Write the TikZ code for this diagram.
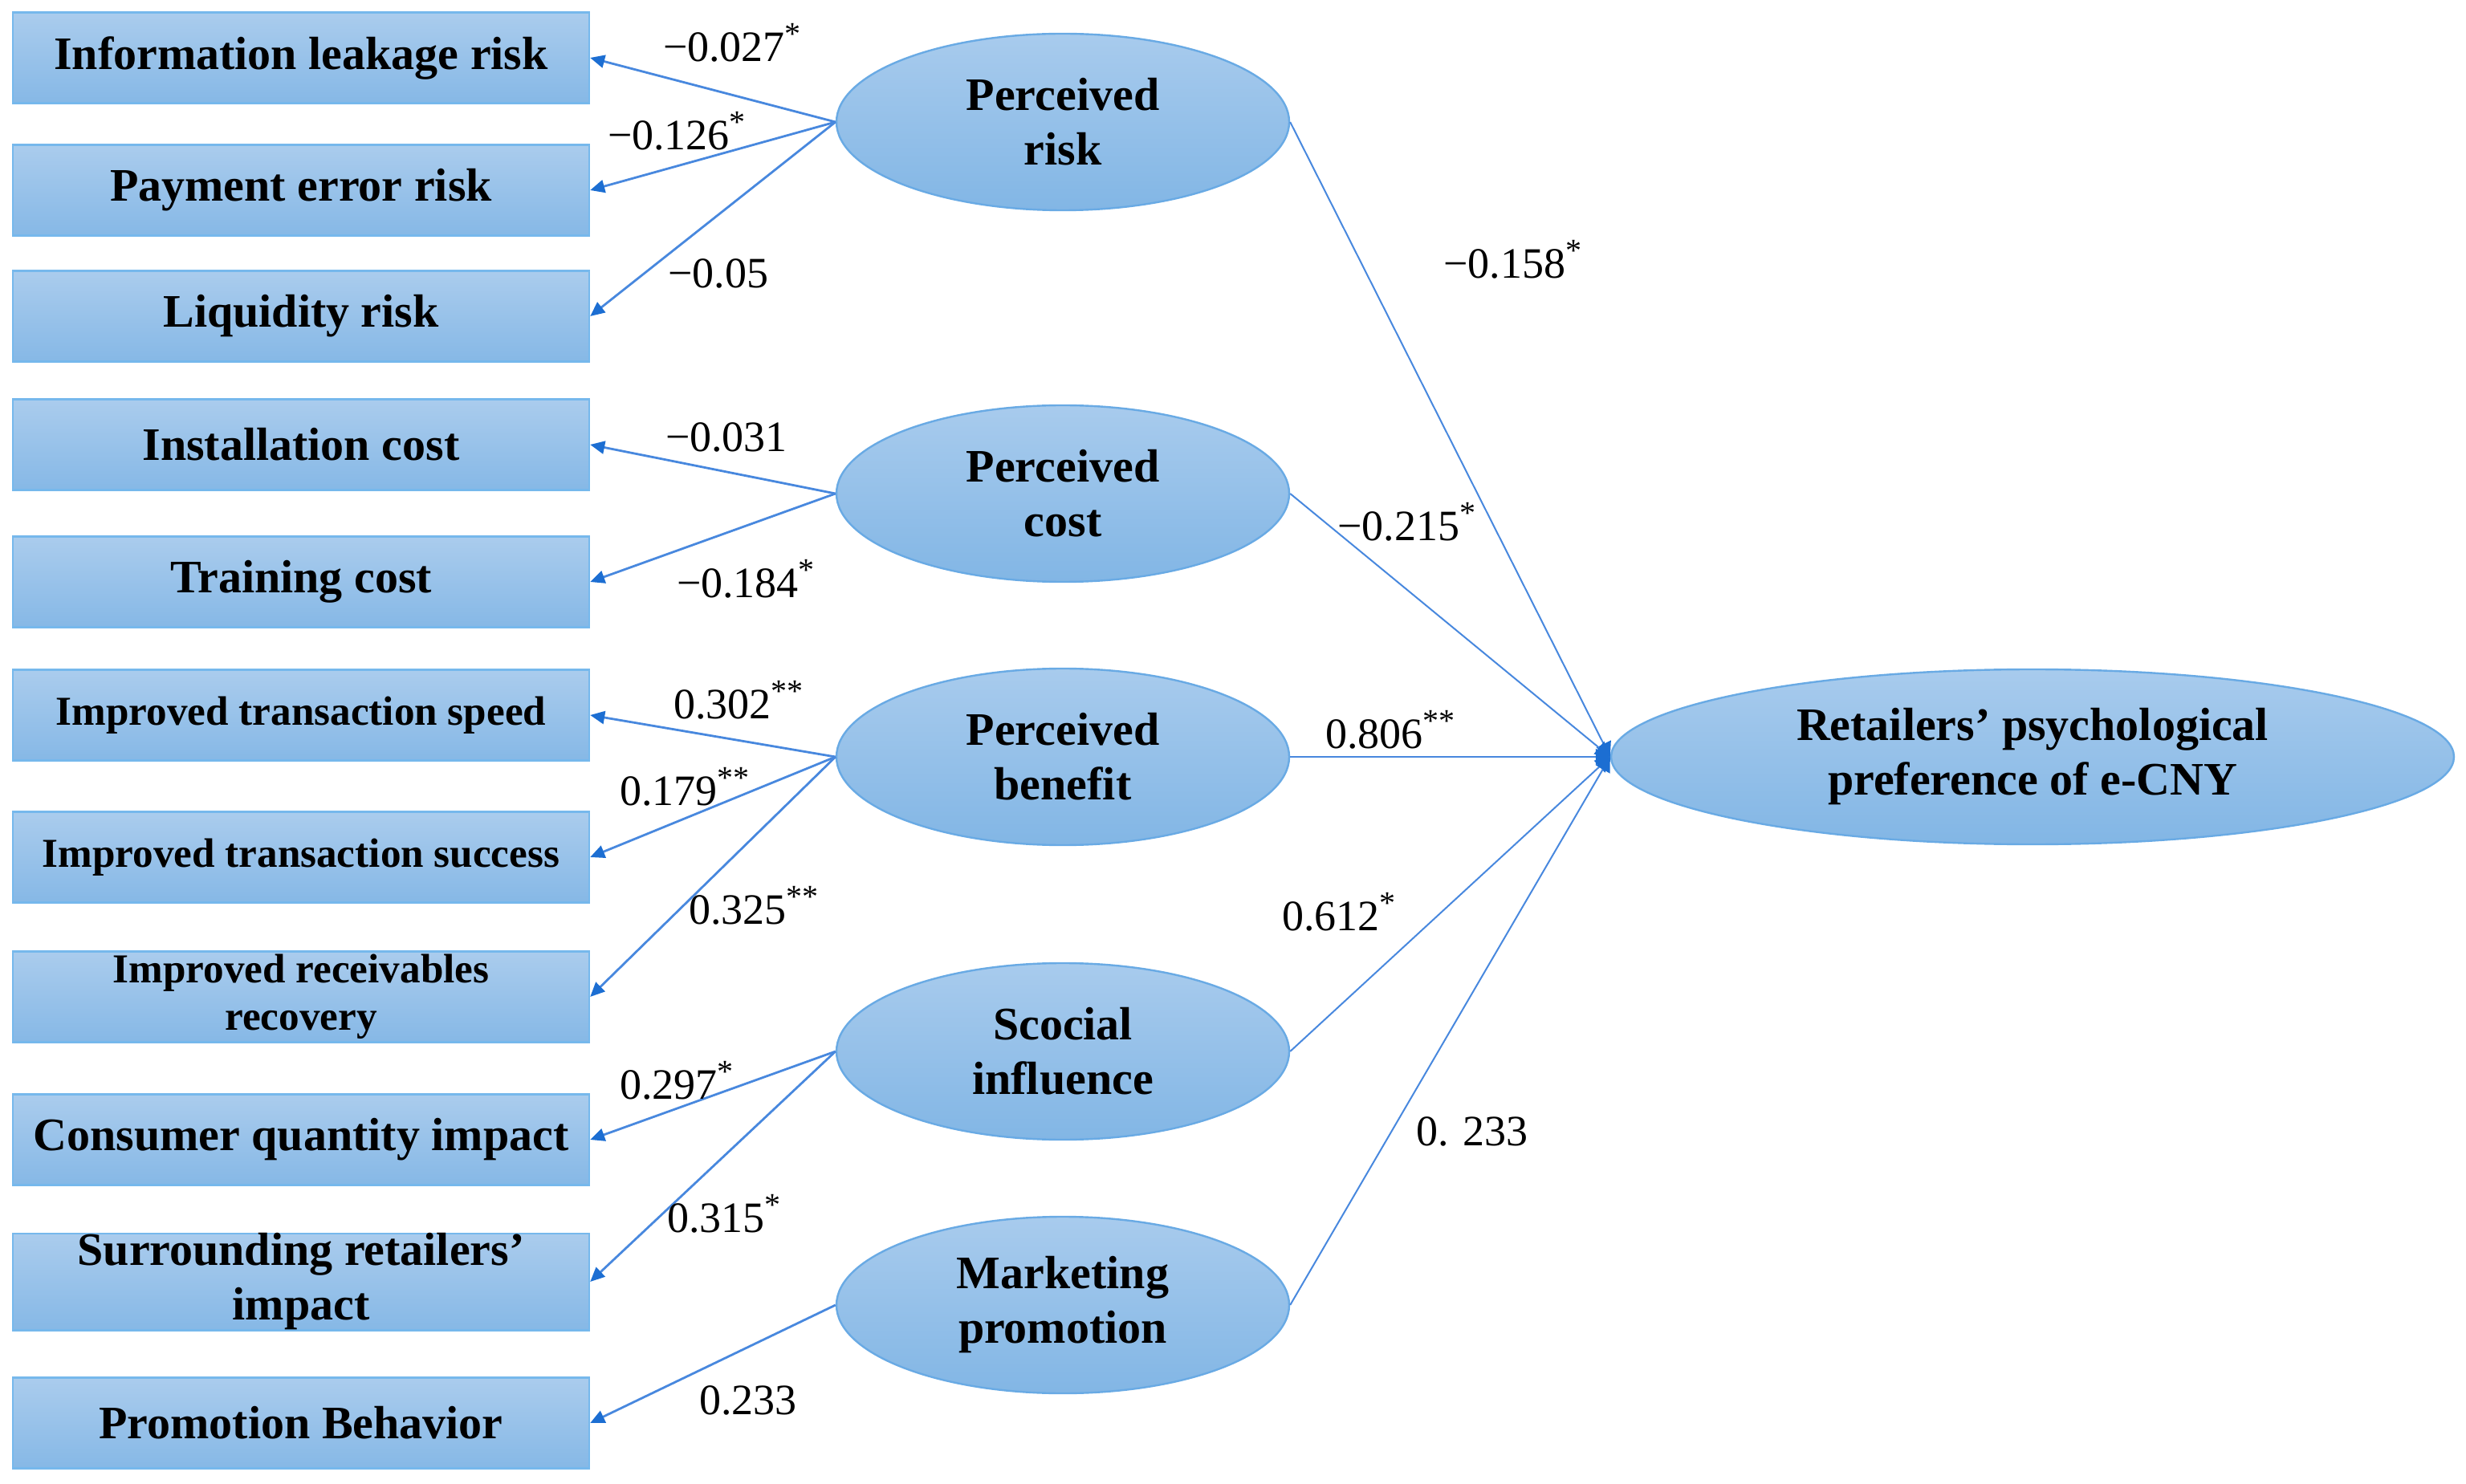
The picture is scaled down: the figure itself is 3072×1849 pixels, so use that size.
\documentclass[tikz,border=0pt]{standalone}
\usepackage{fontspec}
\setmainfont{Liberation Serif}
\usetikzlibrary{shapes.geometric,arrows.meta}
\definecolor{boxtop}{RGB}{170,204,237}
\definecolor{boxbot}{RGB}{134,184,230}
\definecolor{boxedge}{RGB}{118,184,236}
\definecolor{elltop}{RGB}{168,203,237}
\definecolor{ellbot}{RGB}{130,182,229}
\definecolor{elledge}{RGB}{105,170,228}
\definecolor{linec}{RGB}{72,136,222}
\definecolor{tipc}{RGB}{28,110,210}
\newcommand{\sig}[1]{\textsuperscript{\fontsize{10}{10}\selectfont #1}}
\tikzset{
  indbox/.style={rectangle, draw=boxedge, line width=0.6pt, top color=boxtop, bottom color=boxbot,
    minimum width=179.5pt, minimum height=28.25pt, inner sep=0pt, align=center,
    font=\fontsize{14.5}{17}\selectfont\bfseries},
  smallbox/.style={indbox, font=\fontsize{12.8}{14.7}\selectfont\bfseries},
  latent/.style={ellipse, draw=elledge, line width=0.6pt, top color=elltop, bottom color=ellbot,
    minimum width=141pt, minimum height=55pt, inner sep=0pt, align=center,
    font=\fontsize{14.5}{17}\selectfont\bfseries},
  outcome/.style={latent, minimum width=262.5pt, minimum height=54.5pt},
  load/.style={draw=linec, line width=0.7pt, -{Triangle[length=4.5pt,width=4pt,color=tipc]}},
  path/.style={draw=linec, line width=0.5pt, -{Triangle[length=4.5pt,width=5pt,color=tipc]}},
  coef/.style={font=\fontsize{13.5}{16}\selectfont, inner sep=0pt}
}
\begin{document}
\begin{tikzpicture}[x=0.25pt, y=-0.25pt]
\useasboundingbox (0,0) rectangle (3072,1849);
% indicator boxes
\node[indbox] (b1) at (375,72) {\raisebox{-1.5pt}{Information leakage risk}};
\node[indbox] (b2) at (375,237) {\raisebox{-1.5pt}{Payment error risk}};
\node[indbox] (b3) at (375,394) {\raisebox{-1.5pt}{Liquidity risk}};
\node[indbox] (b4) at (375,554) {\raisebox{-1pt}{Installation cost}};
\node[indbox] (b5) at (375,725) {\raisebox{-1pt}{Training cost}};
\node[smallbox] (b6) at (375,891) {\raisebox{-1pt}{Improved transaction speed}};
\node[smallbox] (b7) at (375,1068) {\raisebox{-1pt}{Improved transaction success}};
\node[smallbox] (b8) at (375,1242) {Improved receivables\\recovery};
\node[indbox] (b9) at (375,1420) {\raisebox{-1pt}{Consumer quantity impact}};
\node[indbox] (b10) at (375,1597) {Surrounding retailers’\\impact};
\node[indbox] (b11) at (375,1773) {\raisebox{-1pt}{Promotion Behavior}};
% latent variables
\node[latent] (risk) at (1324,152) {Perceived\\risk};
\node[latent] (cost) at (1324,615) {Perceived\\cost};
\node[latent] (ben) at (1324,943) {Perceived\\benefit};
\node[latent] (soc) at (1324,1310) {Scocial\\influence};
\node[latent] (mkt) at (1324,1626) {Marketing\\promotion};
\node[outcome] (ret) at (2532,943) {Retailers’ psychological\\preference of e-CNY};
% loadings
\draw[load] (risk.west) -- (b1.east);
\draw[load] (risk.west) -- (b2.east);
\draw[load] (risk.west) -- (b3.east);
\draw[load] (cost.west) -- (b4.east);
\draw[load] (cost.west) -- (b5.east);
\draw[load] (ben.west) -- (b6.east);
\draw[load] (ben.west) -- (b7.east);
\draw[load] (ben.west) -- (b8.east);
\draw[load] (soc.west) -- (b9.east);
\draw[load] (soc.west) -- (b10.east);
\draw[load] (mkt.west) -- (b11.east);
% structural paths
\draw[path] (risk.east) -- (ret.west);
\draw[path] (cost.east) -- (ret.west);
\draw[path] (ben.east) -- (ret.west);
\draw[path] (soc.east) -- (ret.west);
\draw[path] (mkt.east) -- (ret.west);
% coefficients
\node[coef] (c1) at (913,53) {−0.027\sig{*}};
\node[coef] (c2) at (844,163) {−0.126\sig{*}};
\node[coef] (c3) at (895,341) {−0.05};
\node[coef] (c4) at (905,545) {−0.031};
\node[coef] (c5) at (930,721) {−0.184\sig{*}};
\node[coef] (c6) at (921,872) {0.302\sig{**}};
\node[coef] (c7) at (854,980) {0.179\sig{**}};
\node[coef] (c8) at (940,1128) {0.325\sig{**}};
\node[coef] (c9) at (844,1346) {0.297\sig{*}};
\node[coef] (c10) at (903,1512) {0.315\sig{*}};
\node[coef] (c11) at (932,1745) {0.233};
\node[coef] (c12) at (1885,323) {−0.158\sig{*}};
\node[coef] (c13) at (1753,650) {−0.215\sig{*}};
\node[coef] (c14) at (1733,909) {0.806\sig{**}};
\node[coef] (c15) at (1669,1136) {0.612\sig{*}};
\node[coef] (c16) at (1834,1410) {0. 233};
\end{tikzpicture}
\end{document}
